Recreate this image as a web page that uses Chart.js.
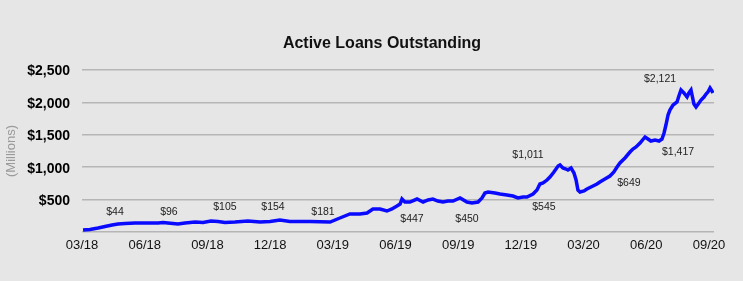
<!DOCTYPE html>
<html><head><meta charset="utf-8">
<script src="https://cdn.jsdelivr.net/npm/chart.js@4"></script>
<style>
html,body{margin:0;padding:0;background:#e6e6e6;}
#wrap{width:743px;height:281px;position:relative;}
</style>
</head><body>
<div id="wrap"><canvas id="c" width="743" height="281"></canvas></div>
<script>
// x: months since March 2018; y: active loans outstanding ($ millions)
const monthsSinceMar18 = [0.05,0.38,0.77,1.10,1.44,1.72,2.06,2.54,3.01,3.64,3.88,4.11,4.35,4.59,4.93,5.41,5.79,6.17,6.51,6.84,7.32,7.94,8.52,9.00,9.47,9.95,10.43,10.91,11.39,11.87,12.34,12.82,13.30,13.64,13.92,14.26,14.59,14.83,15.07,15.22,15.31,15.45,15.69,16.03,16.32,16.56,16.79,17.03,17.27,17.51,17.75,18.09,18.42,18.66,18.95,19.14,19.28,19.43,19.76,20.00,20.33,20.62,20.86,21.10,21.29,21.58,21.77,21.91,22.06,22.25,22.39,22.58,22.78,22.87,23.01,23.16,23.25,23.40,23.54,23.64,23.73,23.83,24.02,24.16,24.45,24.64,24.78,25.02,25.26,25.45,25.60,25.74,25.98,26.22,26.36,26.51,26.70,26.94,27.08,27.22,27.42,27.61,27.75,27.85,27.94,28.04,28.13,28.28,28.47,28.56,28.66,28.80,28.95,29.04,29.14,29.28,29.38,29.52,29.62,29.76,29.86,29.95,30.05,30.14,30.19];
const loansOutstanding = [31,39,62,85,108,123,131,139,139,139,147,139,131,123,139,154,147,170,162,147,154,170,154,162,185,162,162,162,159,154,216,278,278,293,355,355,324,355,401,432,509,463,463,509,463,494,509,478,463,478,478,525,463,447,463,525,602,617,602,586,571,555,525,540,540,586,648,741,756,802,849,926,1018,1034,988,972,957,988,910,802,648,617,633,663,710,741,772,818,864,926,1003,1065,1142,1234,1281,1312,1373,1466,1435,1404,1420,1404,1435,1528,1651,1805,1882,1960,2006,2098,2191,2145,2083,2145,2191,1975,1929,1990,2037,2083,2129,2160,2222,2176,2145];
const tickMonths = [0,3,6,9,12,15,18,21,24,27,30];
const tickLabels = ['03/18','06/18','09/18','12/18','03/19','06/19','09/19','12/19','03/20','06/20','09/20'];
const noteLabels = ['$44','$96','$105','$154','$181','$447','$450','$1,011','$545','$649','$1,417','$2,121'];

const FONT = "'Liberation Sans', Arial, sans-serif";

const notesPlugin = {
  id: 'notes',
  afterDatasetsDraw(chart, args, opts) {
    const ctx = chart.ctx, xs = chart.scales.x, ys = chart.scales.y;
    ctx.save();
    ctx.font = '10.5px ' + FONT;
    ctx.fillStyle = '#222';
    ctx.textAlign = 'center';
    ctx.textBaseline = 'middle';
    noteLabels.forEach((t, i) => {
      ctx.fillText(t, xs.getPixelForValue(opts.at[i][0]), ys.getPixelForValue(opts.at[i][1]));
    });
    ctx.font = 'bold 16px ' + FONT;
    ctx.fillStyle = '#111';
    ctx.fillText('Active Loans Outstanding', 382, 44);
    ctx.restore();
  }
};

new Chart(document.getElementById('c'), {
  type: 'line',
  data: {
    datasets: [{
      data: monthsSinceMar18.map((m, i) => ({x: m, y: loansOutstanding[i]})),
      borderColor: '#0a0aff',
      borderWidth: 3.5,
      pointRadius: 0,
      tension: 0,
      fill: false
    }]
  },
  plugins: [notesPlugin],
  options: {
    responsive: false,
    animation: false,
    devicePixelRatio: 1,
    layout: {padding: {left: 0, right: 29, top: 70, bottom: 0}},
    plugins: {
      legend: {display: false},
      tooltip: {enabled: false},
      notes: {
        at: [[1.58,309],[4.16,309],[6.84,386],[9.14,386],[11.53,309],[15.79,201],[18.42,201],[21.34,1188],[22.1,386],[26.17,756],[28.52,1234],[27.66,2361]]
      }
    },
    scales: {
      x: {
        type: 'linear', min: 0, max: 30.24,
        afterBuildTicks: s => { s.ticks = tickMonths.map(v => ({value: v})); },
        ticks: {
          callback: v => tickLabels[tickMonths.indexOf(v)],
          font: {family: FONT, size: 13}, color: '#111', padding: -2,
          maxRotation: 0, autoSkip: false
        },
        grid: {display: false},
        border: {display: false},
        afterFit: s => { s.height = 49; }
      },
      y: {
        min: 0, max: 2500,
        ticks: {
          stepSize: 500,
          callback: v => v === 0 ? '' : '$' + v.toLocaleString('en-US'),
          font: {family: FONT, size: 14, weight: 'bold'}, color: '#000', padding: 12,
          labelOffset: 1.5
        },
        grid: {color: '#b5b5b5', lineWidth: 1.5, drawTicks: false},
        border: {display: false},
        title: {display: true, text: '(Millions)', color: '#9a9a9a', font: {family: FONT, size: 13}, padding: {top: 4, bottom: 0}},
        afterFit: s => { s.width = 82; }
      }
    }
  }
});
</script>
</body></html>
